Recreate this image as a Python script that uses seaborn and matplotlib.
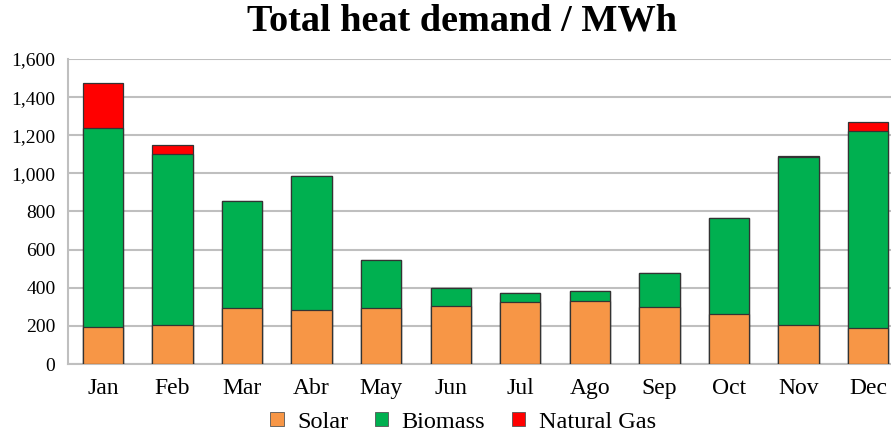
import pandas as pd
import matplotlib
matplotlib.use('Agg')
from matplotlib import pyplot as plt
from matplotlib.patches import Patch
from matplotlib.ticker import FuncFormatter
import seaborn as sns

months = ['Jan', 'Feb', 'Mar', 'Abr', 'May', 'Jun',
          'Jul', 'Ago', 'Sep', 'Oct', 'Nov', 'Dec']
solar = [192, 203, 294, 285, 294, 303, 324, 331, 298, 261, 203, 189]
biomass = [1047, 899, 559, 703, 249, 98, 51, 53, 179, 505, 883, 1034]
natural_gas = [236, 46, 0, 0, 0, 0, 0, 0, 0, 0, 4, 44]

colors = {'Solar': '#F79646', 'Biomass': '#00B050', 'Natural Gas': '#FF0000'}


def main():
    sns.set_style('white')
    plt.rcParams['font.family'] = ['Liberation Serif', 'DejaVu Serif']
    plt.rcParams['text.color'] = 'black'
    plt.rcParams['xtick.color'] = 'black'
    plt.rcParams['ytick.color'] = 'black'

    data = pd.DataFrame({'Month': months, 'Solar': solar,
                         'Biomass': biomass, 'Natural Gas': natural_gas})
    data['Top Biomass'] = data['Solar'] + data['Biomass']
    data['Top Gas'] = data['Top Biomass'] + data['Natural Gas']

    fig = plt.figure(figsize=(8.91, 4.36), dpi=100)
    ax = fig.add_axes([68 / 891, 1 - 364 / 436, 835 / 891, 305 / 436])

    # stack by overdrawing cumulative totals
    for col, name in [('Top Gas', 'Natural Gas'), ('Top Biomass', 'Biomass'),
                      ('Solar', 'Solar')]:
        sns.barplot(data=data, x='Month', y=col, color=colors[name],
                    width=0.58, edgecolor='#333333', linewidth=0.9,
                    saturation=1, ax=ax, zorder=3)

    ax.set_ylim(0, 1600)
    ax.set_yticks(range(0, 1601, 200))
    ax.yaxis.set_major_formatter(FuncFormatter(lambda v, p: f'{int(v):,}'))
    ax.set_xlim(-0.5, 11.5)
    ax.yaxis.grid(True, color='#BFBFBF', linewidth=1.5, zorder=0)
    ax.set_axisbelow(True)
    ax.set_xlabel('')
    ax.set_ylabel('')
    for s in ['top', 'right']:
        ax.spines[s].set_visible(False)
    for s in ['left', 'bottom']:
        ax.spines[s].set_color('#BFBFBF')
        ax.spines[s].set_linewidth(1.5)
    ax.tick_params(axis='y', labelsize=14, length=0, pad=9)
    ax.tick_params(axis='x', labelsize=17, length=0, pad=10)

    fig.text(462 / 891, 1 - 21 / 436, 'Total heat demand / MWh',
             ha='center', va='center', fontsize=27.5, fontweight='bold')

    handles = [Patch(facecolor=colors[n], edgecolor='#555555', linewidth=0.6)
               for n in ['Solar', 'Biomass', 'Natural Gas']]
    fig.legend(handles, ['Solar', 'Biomass', 'Natural Gas'], loc='center',
               bbox_to_anchor=(463 / 891, 1 - 422 / 436), ncol=3,
               frameon=False, fontsize=17.5, handlelength=0.55,
               handleheight=0.55, handletextpad=0.55, columnspacing=1.1)

    plt.savefig('out.png', dpi=100)


if __name__ == '__main__':
    main()
